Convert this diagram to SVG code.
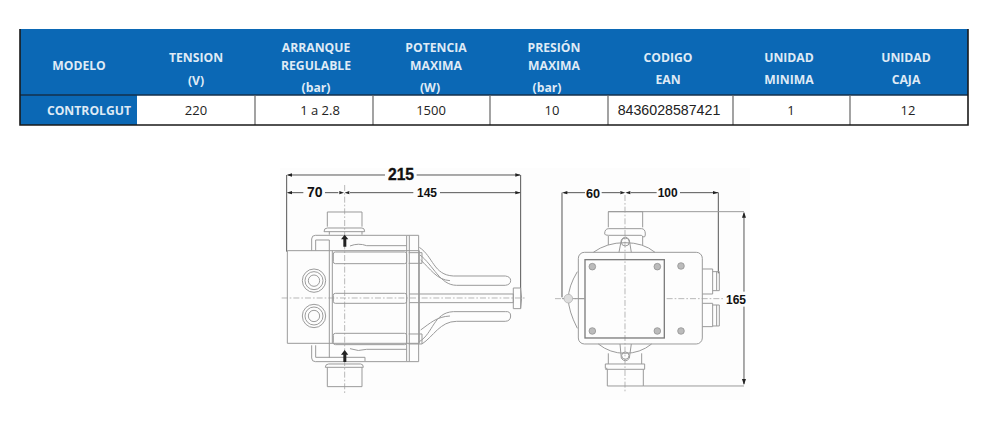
<svg xmlns="http://www.w3.org/2000/svg" width="1000" height="429" viewBox="0 0 1000 429">
<style>
.h{font:bold 12.2px "Open Sans","Liberation Sans",sans-serif;fill:#dfeaf5;text-anchor:middle}
.c{font:13px "Open Sans","Liberation Sans",sans-serif;fill:#222;text-anchor:middle}
.d{font:bold 13px "Liberation Sans",sans-serif;fill:#111;text-anchor:middle}
.l{fill:none;stroke:#9a9a9a;stroke-width:3}
.k{fill:none;stroke:#555;stroke-width:3}
.m{fill:none;stroke:#888;stroke-width:2.5}
.a{fill:#222}
.x{fill:none;stroke:#aaa;stroke-width:2.5;stroke-dasharray:18 6 5 6}
</style>
<rect width="1000" height="429" fill="#fff"/>
<rect x="280" y="168" width="470" height="232" fill="#fdfdfd"/>
<g id="table">
<rect x="20" y="29" width="948" height="66" fill="#0b68b5"/>
<rect x="20" y="95" width="117" height="30" fill="#0b68b5"/>
<path d="M20 95H968" stroke="#14304d" stroke-width="1.5"/>
<path d="M255 95V125M373 95V125M490 95V125M608 95V125M733 95V125M850 95V125" stroke="#666" stroke-width="1.2"/>
<path d="M20 29V125H968V29" fill="none" stroke="#1a1a1a" stroke-width="1.6"/>
<text class="h" x="79" y="70">MODELO</text>
<text class="h" x="196" y="62">TENSION</text><text class="h" x="196" y="85">(V)</text>
<text class="h" x="316" y="52">ARRANQUE</text><text class="h" x="316" y="70">REGULABLE</text><text class="h" x="316" y="92">(bar)</text>
<text class="h" x="436" y="52">POTENCIA</text><text class="h" x="436" y="70">MAXIMA</text><text class="h" x="430" y="92">(W)</text>
<text class="h" x="554" y="52">PRESIÓN</text><text class="h" x="554" y="70">MAXIMA</text><text class="h" x="547" y="92">(bar)</text>
<text class="h" x="668" y="62">CODIGO</text><text class="h" x="668" y="84">EAN</text>
<text class="h" x="789" y="62">UNIDAD</text><text class="h" x="789" y="84">MINIMA</text>
<text class="h" x="906" y="62">UNIDAD</text><text class="h" x="906" y="84">CAJA</text>
<text class="h" x="89" y="115">CONTROLGUT</text>
<text class="c" x="196" y="115">220</text>
<text class="c" x="320" y="115">1 a 2.8</text>
<text class="c" x="431" y="115">1500</text>
<text class="c" x="552" y="115">10</text>
<text class="c" x="669" y="115" style="font-family:'Liberation Sans',sans-serif;font-size:14.2px">8436028587421</text>
<text class="c" x="791" y="115">1</text>
<text class="c" x="908" y="115">12</text>
</g>
<g id="side-view" transform="translate(270 160) scale(.3333)">
<path class="k" d="M50 45V275M752 45V385"/>
<path class="k" d="M55 45H345M440 45H750M55 98H100M165 98H205M240 98H430M510 98H750"/>
<path class="a" d="M50 45l16-5v10zM752 45l-16-5v10zM50 98l16-5v10zM752 98l-16-5v10zM222 98l-14-5v10zM224 98l14-5v10z"/>
<path class="x" d="M224 75V705M35 414H770"/>
<path class="l" d="M172 200V156H276V200M162 215q0-11 10-11H276q8 0 8 11H162M178 215V224M276 215V224"/>
<path class="l" d="M125 272V237Q125 226 136 226H410M410 226H446V605H410M137 272V240H178M410 226V605"/>
<path class="l" d="M240 258Q265 248 290 257H410M240 566Q265 576 290 568H410M125 556V594Q125 605 136 605H410M137 556V592H180M178 592H285V603"/>
<path class="l" d="M166 622q0-10 10-10H272q8 0 8 10zM172 622V680H276V622"/>
<path class="l" d="M52 272H448V550H52zM178 240V592M187 272V550M418 226V605"/>
<rect class="l" x="190" y="276" width="220" height="35" rx="6"/>
<rect class="l" x="190" y="400" width="220" height="30" rx="6"/>
<rect class="l" x="190" y="520" width="220" height="34" rx="6"/>
<path class="l" d="M448 262C490 290 490 345 550 348H706Q722 350 722 362T706 376H560C510 376 490 315 450 285"/>
<path class="l" d="M452 300C480 325 500 360 540 362"/>
<path class="l" d="M448 545C490 520 490 458 550 455H706Q722 453 722 468T706 484H560C510 484 490 530 456 552"/>
<path class="l" d="M452 510C480 490 500 470 540 468"/>
<path class="l" d="M418 402H730V428H418M730 384H752V446H730ZM752 384Q758 414 752 446M416 522H456V552H416M416 278H456V310H416"/>
<g class="m"><circle cx="132" cy="362" r="35"/><circle cx="132" cy="362" r="27"/><circle cx="132" cy="362" r="17"/><circle cx="132" cy="468" r="35"/><circle cx="132" cy="468" r="27"/><circle cx="132" cy="468" r="17"/></g>
<path class="a" d="M224 224l-11 14h7v22h9v-22h6zM224 570l-11 14h7v22h9v-22h6z"/>
<text class="d" x="393" y="61" style="font-size:47px" stroke="#111" stroke-width="1">215</text>
<text class="d" x="134" y="112" style="font-size:42px">70</text>
<text class="d" x="471" y="110" style="font-size:36px">145</text>
</g>
<g id="front-view" transform="translate(540 160) scale(.3333)">
<path class="k" d="M66 98V412M535 98V340M72 98H135M185 98H240M272 98H350M420 98H535M612 160V395M612 440V672"/>
<path class="a" d="M66 98l16-5v10zM535 98l-16-5v10zM256 98l-15-5v10zM256 98l15-5v10zM612 155l-6 18h12zM612 675l-6-18h12z"/>
<path class="l" d="M205 155H612M310 678H612"/>
<path class="x" d="M255 105V700M45 416H132M380 416H550"/>
<path class="l" d="M205 202V155H308V202M194 222q0-16 12-16H304q12 0 12 16t-12 4H206q-12 0-12-4zM205 228V255M308 228V255"/>
<path class="l" d="M202 625H196V612H314V628H196M202 628V678H310V628M205 580V612M305 580V612"/>
<path class="l" d="M160 277Q200 248 255 248T345 277M175 552Q210 580 255 580T335 552"/>
<rect class="l" x="115" y="277" width="372" height="275" rx="18"/>
<rect x="135" y="299" width="238" height="235" fill="none" stroke="#7d7d7d" stroke-width="4"/>
<path class="l" d="M237 277L244 240Q256 222 268 240L274 277M240 552L244 595Q256 610 268 595L274 552"/>
<circle class="l" cx="256" cy="246" r="12"/><circle class="l" cx="256" cy="587" r="11"/>
<path class="l" d="M112 335Q85 380 85 416T112 505M66 416H135"/>
<circle cx="85" cy="416" r="13" fill="#ddd" stroke="#aaa" stroke-width="2"/>
<g fill="#bbb" stroke="#888" stroke-width="2"><circle cx="157" cy="320" r="10"/><circle cx="352" cy="320" r="10"/><circle cx="423" cy="318" r="10"/><circle cx="157" cy="513" r="10"/><circle cx="352" cy="513" r="10"/><circle cx="423" cy="513" r="10"/></g>
<path class="l" d="M487 327H518V402H487M518 335H538V392H518M487 430H518V500H487M518 435H538V498H518M530 335V392M530 435V498"/>
<rect x="550" y="400" width="76" height="38" fill="#fdfdfd"/>
<text class="d" x="159" y="114" style="font-size:38px">60</text>
<text class="d" x="383" y="112" style="font-size:36px">100</text>
<text class="d" x="588" y="431" style="font-size:36px">165</text>
</g>
</svg>
